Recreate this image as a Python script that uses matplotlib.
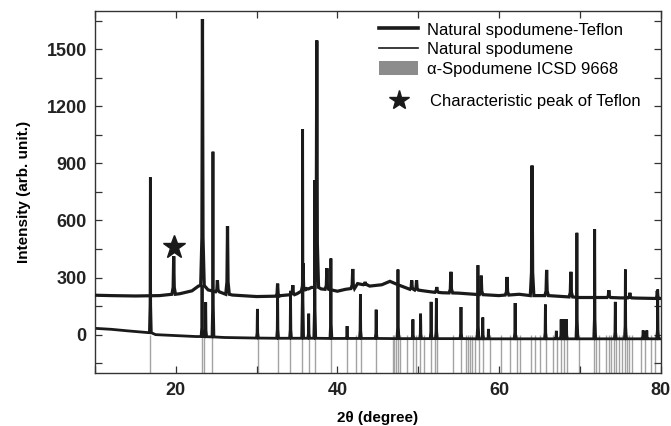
import matplotlib
matplotlib.use("Agg")
import matplotlib.pyplot as plt
from matplotlib.lines import Line2D
from matplotlib.patches import Patch
from matplotlib.ticker import MultipleLocator

plt.rcParams["font.family"] = ["Liberation Sans", "DejaVu Sans"]

# natural spodumene-Teflon (upper pattern): background points and sharp peaks
teflon_base_x = [10, 12, 15, 18, 20.5, 22, 22.8, 24.0, 27, 30, 33, 35, 36.8, 38, 40, 41,
                 42.5, 44, 45.5, 46.5, 47.5, 49, 51, 53, 55, 57, 60, 62.5, 66, 70, 72,
                 75, 77, 80]
teflon_base_y = [207, 205, 203, 205, 215, 230, 255, 235, 208, 200, 205, 215, 248, 240, 228,
                 238, 268, 255, 262, 280, 262, 238, 228, 220, 218, 212, 205, 212, 200, 195,
                 195, 193, 192, 190]
teflon_peak_x = [19.74, 23.3, 25.15, 26.4, 32.6, 34.48, 35.75, 36.2, 37.45, 38.7, 41.9,
                 43.44, 49.2, 49.8, 52.3, 54.05, 57.8, 61.0, 64.1, 65.9, 68.9, 73.6, 76.2,
                 79.6]
teflon_peak_y = [412, 1658, 286, 570, 268, 260, 375, 242, 1545, 349, 345, 277, 285, 285,
                 250, 330, 310, 303, 888, 340, 330, 233, 220, 230]
teflon_peak_foot = [212, 258, 225, 212, 202, 210, 228, 240, 248, 238, 242, 262, 238, 234,
                    222, 219, 210, 208, 205, 205, 198, 195, 193, 190]

# natural spodumene (lower pattern)
natural_base_x = [10, 12, 14, 16.3, 17.5, 20, 22.5, 26, 30, 40, 50, 60, 70, 80]
natural_base_y = [33, 28, 20, 12, 0, -5, -10, -15, -18, -20, -21, -22, -22, -22]
natural_peak_x = [16.85, 23.25, 23.7, 24.6, 30.1, 32.6, 34.2, 35.7, 36.45, 37.2, 39.2,
                  41.2, 42.85, 44.8, 47.5, 49.35, 50.3, 51.6, 52.25, 55.3, 57.4, 58.0,
                  58.7, 62.0, 65.75, 67.1, 67.7, 68.0, 68.35, 69.65, 71.85, 74.4, 75.65,
                  77.85, 78.3, 79.65]
natural_peak_y = [826, 260, 170, 961, 135, 240, 230, 1080, 110, 812, 400, 45, 212, 131,
                  342, 80, 110, 172, 190, 145, 365, 90, 30, 166, 158, 20, 80, 80, 80, 535,
                  554, 172, 342, 22, 22, 237]
natural_peak_foot = [10, -10, -11, -12, -18, -19, -19, -19, -19, -19, -20, -20, -20, -20,
                     -21, -21, -21, -21, -21, -21, -22, -22, -22, -22, -22, -22, -22, -22,
                     -22, -22, -22, -22, -22, -22, -22, -22]

# alpha-spodumene reference lines, ICSD 9668
icsd_2theta = [16.85, 23.2, 23.51, 24.5, 30.14, 32.61, 34.19, 35.68, 36.45, 37.2, 39.19,
               41.17, 42.34, 42.97, 44.77, 46.94, 47.07, 47.25, 47.48, 47.75, 48.65, 49.41,
               49.77, 50.23, 50.77, 51.53, 52.12, 52.34, 54.37, 55.27, 55.95, 56.17, 56.4,
               56.62, 57.07, 57.52, 57.97, 58.87, 60.23, 61.35, 62.25, 62.61, 63.96, 64.5,
               65.05, 65.86, 66.67, 67.21, 67.66, 68.11, 68.47, 69.91, 71.71, 72.07, 72.39,
               73.29, 73.6, 73.87, 74.19, 74.5, 74.86, 75.23, 75.54, 75.86, 76.13, 76.44,
               77.57, 78.02, 78.83, 79.37]

teflon_star = (19.74, 458)


def build_pattern(base_x, base_y, peak_x, peak_y, peak_foot, half, tip):
    # background points away from the peaks, then a narrow spike per peak
    pts = [(x, y) for x, y in zip(base_x, base_y)
           if all(abs(x - c) > half for c in peak_x)]
    for c, h, f in zip(peak_x, peak_y, peak_foot):
        s = f + 0.18 * (h - f)
        pts += [(c - half, f), (c - tip, s), (c, h), (c + tip, s), (c + half, f)]
    pts.sort()
    return [p[0] for p in pts], [p[1] for p in pts]


fig = plt.figure(figsize=(6.71, 4.26), dpi=100)
ax = fig.add_axes([0.1416, 0.1251, 0.8428, 0.8491])

ax.vlines(icsd_2theta, -200, 0, color="#a3a3a3", lw=1.0, zorder=1)

x, y = build_pattern(natural_base_x, natural_base_y, natural_peak_x, natural_peak_y,
                     natural_peak_foot, 0.12, 0.04)
ax.plot(x, y, color="#1a1a1a", lw=2.0, zorder=2, solid_joinstyle="miter")

x, y = build_pattern(teflon_base_x, teflon_base_y, teflon_peak_x, teflon_peak_y,
                     teflon_peak_foot, 0.22, 0.07)
ax.plot(x, y, color="#1a1a1a", lw=2.3, zorder=3, solid_joinstyle="miter")

ax.plot(*teflon_star, marker="*", color="#1a1a1a", markersize=17, linestyle="none")

ax.set_xlim(10, 80)
ax.set_ylim(-200, 1700)
ax.xaxis.set_major_locator(MultipleLocator(20))
ax.xaxis.set_minor_locator(MultipleLocator(10))
ax.yaxis.set_major_locator(MultipleLocator(300))
ax.yaxis.set_minor_locator(MultipleLocator(150))
ax.tick_params(which="both", direction="in", top=True, right=True, width=0.9,
               color="#333333")
ax.tick_params(which="major", length=5, labelsize=13)
ax.tick_params(which="minor", length=5)
ax.tick_params(axis="x", pad=7)
ax.tick_params(axis="y", pad=6)
for lab in ax.get_xticklabels() + ax.get_yticklabels():
    lab.set_fontweight("bold")
    lab.set_color("#222222")
for sp in ax.spines.values():
    sp.set_linewidth(1.0)
    sp.set_color("#333333")

ax.set_xlabel("2θ (degree)", fontsize=11, fontweight="bold", labelpad=8)
ax.set_ylabel("Intensity (arb. unit.)", fontsize=11, fontweight="bold", labelpad=11)

handles = [
    Line2D([], [], color="#1a1a1a", lw=2.6),
    Line2D([], [], color="#1a1a1a", lw=1.2),
    Patch(facecolor="#8c8c8c", edgecolor="none"),
]
labels = ["Natural spodumene-Teflon", "Natural spodumene", "α-Spodumene ICSD 9668"]
leg = ax.legend(handles, labels, loc="upper left", bbox_to_anchor=(0.503, 0.97),
                frameon=False, fontsize=12, handlelength=2.3, handleheight=0.95,
                handletextpad=0.55, labelspacing=0.22, borderpad=0, borderaxespad=0)
ax.add_artist(leg)

star_handle = Line2D([], [], color="#1a1a1a", marker="*", markersize=15, linestyle="none")
ax.legend([star_handle], ["Characteristic peak of Teflon"], loc="upper left",
          bbox_to_anchor=(0.503, 0.77), frameon=False, fontsize=12, handlelength=2.3,
          handletextpad=0.75, borderpad=0, borderaxespad=0)

fig.savefig("out.png", dpi=100)
